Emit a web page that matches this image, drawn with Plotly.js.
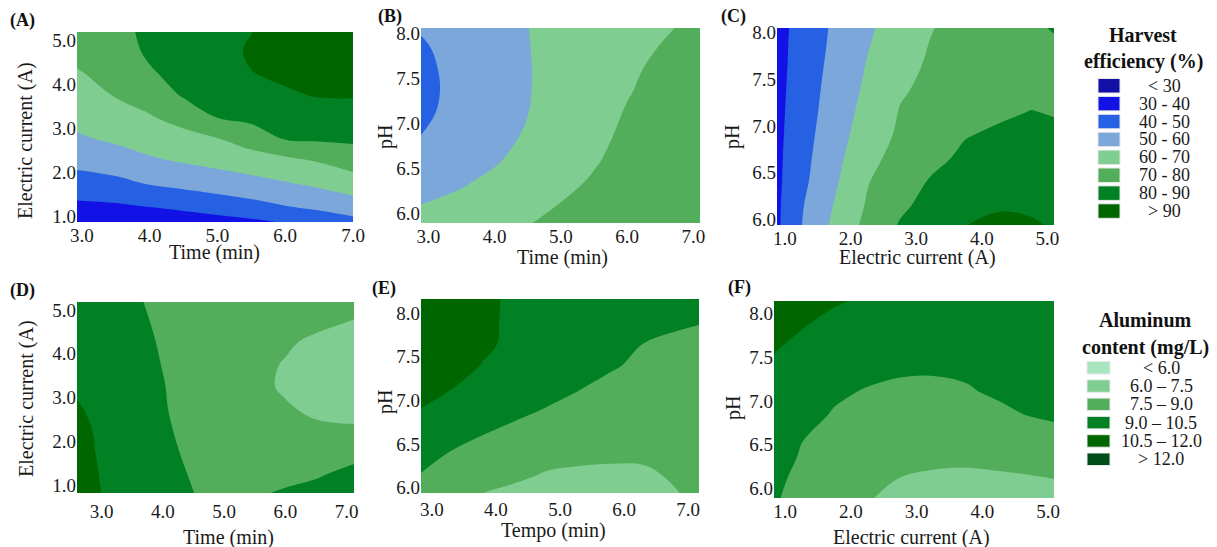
<!DOCTYPE html>
<html>
<head>
<meta charset="utf-8">
<script src="https://cdn.plot.ly/plotly-3.0.1.min.js"></script>
<style>html,body{margin:0;padding:0;background:#fff;}#chart{width:1217px;height:547px;}</style>
</head>
<body>
<div id="chart"></div>
<script>
// ---------- DATA ----------
// Panel A: harvest efficiency (%) vs time (min) and electric current (A)
const panelA_time = [2.9, 3.5, 4.0, 4.5, 5.0, 5.5, 6.0, 6.5, 7.05];
const panelA_current = [0.85, 1.25, 1.75, 2.25, 2.75, 3.25, 3.75, 4.25, 4.75, 5.2];
const panelA_efficiency = [
  [32.0, 32.5, 33.0, 34.0, 35.8, 37.5, 40.0, 43.5, 46.7],
  [38.2, 39.0, 40.6, 42.6, 44.7, 47.1, 50.0, 52.4, 55.9],
  [45.7, 47.4, 50.6, 52.5, 54.7, 56.9, 59.3, 61.9, 66.0],
  [52.6, 55.1, 58.5, 60.6, 62.7, 64.8, 67.1, 70.4, 74.6],
  [58.5, 61.4, 64.1, 66.3, 69.3, 74.5, 80.2, 81.0, 81.5],
  [62.5, 66.2, 69.2, 73.8, 80.3, 82.4, 84.6, 85.9, 86.3],
  [65.8, 70.5, 74.1, 80.9, 82.5, 86.1, 89.0, 90.5, 90.6],
  [69.1, 73.1, 79.0, 83.2, 84.8, 89.8, 91.5, 93.0, 93.0],
  [72.4, 75.7, 81.5, 85.5, 87.0, 91.0, 93.0, 94.5, 94.5],
  [75.0, 78.0, 81.5, 87.5, 89.0, 89.8, 93.5, 95.0, 95.0]
];

// Panel B: harvest efficiency (%) vs time (min) and pH
const panelB_time = [2.85, 3.5, 4.0, 4.5, 5.0, 5.5, 6.0, 6.5, 7.15];
const panelB_pH = [5.85, 6.1, 6.35, 6.6, 6.85, 7.1, 7.35, 7.6, 7.85, 8.1];
const panelB_efficiency = [
  [63.2, 64.4, 66.0, 70.0, 72.0, 75.0, 77.5, 78.5, 79.5],
  [59.8, 61.6, 63.5, 67.0, 70.2, 72.8, 75.8, 77.3, 78.6],
  [56.5, 59.3, 61.4, 64.5, 68.0, 70.8, 74.0, 76.0, 77.6],
  [53.0, 57.5, 59.2, 62.3, 66.4, 69.2, 72.6, 74.9, 76.6],
  [49.8, 55.6, 57.8, 60.8, 65.2, 68.2, 71.4, 73.8, 75.6],
  [47.5, 54.0, 56.7, 59.9, 64.5, 67.5, 70.5, 72.8, 74.7],
  [46.5, 53.5, 56.0, 59.5, 64.0, 67.1, 69.6, 71.9, 73.8],
  [47.0, 53.6, 56.2, 59.4, 64.0, 67.0, 69.1, 71.0, 73.0],
  [48.5, 54.0, 56.8, 59.6, 64.3, 67.2, 68.9, 70.1, 72.2],
  [51.0, 55.0, 57.5, 59.9, 64.8, 67.6, 68.9, 69.0, 71.4]
];

// Panel C: harvest efficiency (%) vs electric current (A) and pH
const panelC_current = [0.85, 1.25, 1.75, 2.25, 2.75, 3.25, 3.75, 4.25, 4.75, 5.15];
const panelC_pH = [5.9, 6.15, 6.4, 6.65, 6.9, 7.15, 7.4, 7.65, 7.9, 8.1];
const panelC_efficiency = [
  [37.5, 49.8, 62.3, 73.0, 81.0, 86.2, 90.5, 92.0, 91.5, 89.3],
  [37.4, 49.1, 60.4, 70.8, 78.5, 82.7, 86.0, 89.2, 88.5, 87.0],
  [37.3, 47.5, 58.5, 69.4, 76.0, 81.0, 84.0, 86.8, 87.3, 85.0],
  [37.2, 46.7, 57.1, 67.0, 73.5, 78.0, 81.7, 83.8, 85.3, 83.3],
  [37.0, 45.9, 55.8, 64.7, 71.5, 75.5, 79.6, 81.3, 82.3, 81.3],
  [36.8, 45.2, 54.6, 63.1, 70.4, 73.2, 76.0, 78.7, 80.2, 79.5],
  [36.5, 44.7, 53.6, 61.6, 69.0, 72.0, 74.5, 76.5, 77.8, 78.3],
  [36.3, 44.1, 52.7, 60.4, 66.9, 71.5, 74.0, 76.0, 77.5, 78.5],
  [36.2, 43.7, 51.8, 59.2, 65.1, 70.6, 74.0, 76.5, 78.3, 79.6],
  [36.0, 43.3, 51.3, 58.3, 64.1, 69.4, 74.0, 77.0, 79.3, 81.0]
];

// Panel D: aluminum content (mg/L) vs time (min) and electric current (A)
const panelD_time = [2.6, 3.0, 3.5, 4.0, 4.5, 5.0, 5.5, 6.0, 6.5, 7.2];
const panelD_current = [0.75, 1.25, 1.75, 2.25, 2.75, 3.25, 3.75, 4.25, 4.75, 5.25];
const panelD_aluminum = [
  [10.9, 10.5, 10.0, 9.5, 9.02, 8.7, 8.95, 9.15, 9.35, 9.6],
  [10.9, 10.45, 9.95, 9.4, 8.9, 8.6, 8.6, 8.75, 8.9, 9.3],
  [10.8, 10.4, 9.85, 9.3, 8.75, 8.35, 8.2, 8.2, 8.4, 8.75],
  [10.75, 10.35, 9.8, 9.2, 8.6, 8.1, 7.8, 7.75, 7.65, 7.6],
  [10.6, 10.2, 9.6, 9.1, 8.5, 8.05, 7.8, 7.58, 7.35, 7.25],
  [10.35, 10.0, 9.55, 9.05, 8.5, 8.0, 7.7, 7.4, 7.15, 7.0],
  [10.2, 9.9, 9.45, 8.97, 8.45, 8.0, 7.7, 7.45, 7.2, 7.0],
  [10.1, 9.8, 9.35, 8.9, 8.5, 8.15, 7.85, 7.6, 7.35, 7.2],
  [10.0, 9.7, 9.2, 8.85, 8.55, 8.3, 8.05, 7.85, 7.7, 7.45],
  [9.9, 9.6, 9.1, 8.8, 8.55, 8.4, 8.2, 8.05, 7.9, 7.75]
];

// Panel E: aluminum content (mg/L) vs tempo (min) and pH
const panelE_time = [2.8, 3.3, 3.8, 4.3, 4.8, 5.3, 5.8, 6.3, 6.8, 7.2];
const panelE_pH = [5.9, 6.15, 6.4, 6.65, 6.9, 7.15, 7.4, 7.65, 7.9, 8.2];
const panelE_aluminum = [
  [8.75, 8.3, 7.4, 7.1, 6.9, 6.85, 6.85, 7.0, 7.4, 7.8],
  [9.0, 8.6, 8.1, 7.75, 7.4, 7.3, 7.25, 7.3, 7.65, 8.0],
  [9.45, 8.95, 8.55, 8.2, 7.95, 7.8, 7.75, 7.75, 7.9, 8.15],
  [9.95, 9.5, 9.1, 8.75, 8.45, 8.2, 8.05, 8.0, 8.05, 8.2],
  [10.5, 10.0, 9.6, 9.3, 8.95, 8.7, 8.45, 8.3, 8.25, 8.3],
  [11.0, 10.55, 10.15, 9.8, 9.4, 9.05, 8.75, 8.5, 8.35, 8.35],
  [11.3, 10.95, 10.45, 10.1, 9.75, 9.4, 9.1, 8.8, 8.5, 8.45],
  [11.5, 11.1, 10.7, 10.25, 9.95, 9.65, 9.35, 9.0, 8.75, 8.65],
  [11.6, 11.2, 10.8, 10.2, 10.05, 9.85, 9.6, 9.4, 9.2, 9.05],
  [11.6, 11.2, 10.8, 10.25, 10.2, 10.0, 9.8, 9.65, 9.5, 9.35]
];

// Panel F: aluminum content (mg/L) vs electric current (A) and pH
const panelF_current = [0.8, 1.25, 1.75, 2.25, 2.75, 3.25, 3.75, 4.25, 4.75, 5.15];
const panelF_pH = [5.85, 6.1, 6.35, 6.6, 6.85, 7.1, 7.35, 7.6, 7.85, 8.2];
const panelF_aluminum = [
  [9.15, 8.55, 8.05, 7.55, 7.1, 6.9, 6.85, 6.95, 7.1, 7.2],
  [9.3, 8.7, 8.3, 7.9, 7.45, 7.25, 7.2, 7.3, 7.4, 7.5],
  [9.5, 8.9, 8.55, 8.2, 7.95, 7.8, 7.75, 7.8, 7.9, 7.95],
  [9.7, 9.05, 8.75, 8.45, 8.2, 8.05, 8.05, 8.15, 8.3, 8.4],
  [10.0, 9.45, 8.9, 8.6, 8.45, 8.35, 8.45, 8.7, 9.1, 9.4],
  [10.2, 9.7, 9.2, 8.9, 8.75, 8.7, 8.85, 9.2, 9.5, 9.75],
  [10.35, 10.0, 9.6, 9.3, 9.12, 9.1, 9.2, 9.45, 9.75, 9.95],
  [10.6, 10.2, 9.85, 9.6, 9.45, 9.45, 9.55, 9.75, 9.95, 10.1],
  [10.9, 10.55, 10.15, 9.9, 9.75, 9.75, 9.8, 9.95, 10.1, 10.2],
  [11.3, 11.0, 10.7, 10.45, 10.25, 10.15, 10.15, 10.25, 10.35, 10.4]
];

// Contour levels, legend labels and tick labels
const harvestLevels = {start: 30, end: 90, size: 10};
const harvestLabels = ['< 30', '30 - 40', '40 - 50', '50 - 60', '60 - 70', '70 - 80', '80 - 90', '> 90'];
const harvestColors = ['#1010a4', '#1212e6', '#2561e2', '#7ba7da', '#80cd91', '#53ae5b', '#018024', '#006600'];
const aluminumLevels = {start: 6, end: 12, size: 1.5};
const aluminumLabels = ['< 6.0', '6.0 \u2013 7.5', '7.5 \u2013 9.0', '9.0 \u2013 10.5', '10.5 \u2013 12.0', '> 12.0'];
const aluminumColors = ['#a8e6c0', '#80cd91', '#53ae5b', '#018024', '#006600', '#004d1a'];
const timeTicks = [3, 4, 5, 6, 7];
const currentTicks = [1, 2, 3, 4, 5];
const pHTicks = [6.0, 6.5, 7.0, 7.5, 8.0];

// ---------- BUILD ----------
const W = 1217, H = 547;
const px = v => v / W;
const py = v => 1 - v / H;
const FONT = '"Liberation Serif", "Times New Roman", serif';

function discreteScale(colors) {
  const n = colors.length - 1;
  return colors.map((c, i) => [i / n, c]);
}

function contourTrace(x, y, z, levels, colors, ax) {
  return {
    type: 'contour', x: x, y: y, z: z,
    xaxis: 'x' + ax, yaxis: 'y' + ax,
    autocontour: false,
    contours: {start: levels.start, end: levels.end, size: levels.size, coloring: 'fill', showlines: false},
    line: {width: 0, smoothing: 1.1},
    colorscale: discreteScale(colors),
    showscale: false, hoverinfo: 'skip'
  };
}

const traces = [
  contourTrace(panelA_time, panelA_current, panelA_efficiency, harvestLevels, harvestColors, ''),
  contourTrace(panelB_time, panelB_pH, panelB_efficiency, harvestLevels, harvestColors, '2'),
  contourTrace(panelC_current, panelC_pH, panelC_efficiency, harvestLevels, harvestColors, '3'),
  contourTrace(panelD_time, panelD_current, panelD_aluminum, aluminumLevels, aluminumColors, '4'),
  contourTrace(panelE_time, panelE_pH, panelE_aluminum, aluminumLevels, aluminumColors, '5'),
  contourTrace(panelF_current, panelF_pH, panelF_aluminum, aluminumLevels, aluminumColors, '6')
];

const tickFont = {family: FONT, size: 19, color: '#1a1a1a'};
function axis(domain, range, ticks, anchor, standoff) {
  return {
    domain: domain, range: range, anchor: anchor,
    tickvals: ticks, tickformat: '.1f', tickfont: tickFont,
    ticks: '', showgrid: false, zeroline: false, showline: false,
    ticklabelstandoff: standoff || 0,
    fixedrange: true
  };
}

// Plot boxes in pixels: [left, right, top, bottom]
const boxes = {
  A: [77, 353, 32, 222], B: [421, 700, 28, 223], C: [777, 1054, 28, 225],
  D: [77, 354, 302, 493], E: [421, 699, 299, 493], F: [774, 1054, 301, 498]
};
const xd = b => [px(b[0]), px(b[1])];
const yd = b => [py(b[3]), py(b[2])];

const layout = {
  width: W, height: H,
  margin: {l: 0, r: 0, t: 0, b: 0},
  paper_bgcolor: '#ffffff', plot_bgcolor: '#ffffff',
  showlegend: false,
  font: {family: FONT, color: '#1a1a1a'},
  xaxis: axis(xd(boxes.A), [2.93, 7.0], timeTicks, 'y', 0),
  yaxis: axis(yd(boxes.A), [0.88, 5.18], currentTicks, 'x'),
  xaxis2: axis(xd(boxes.B), [2.89, 7.1], timeTicks, 'y2', 0),
  yaxis2: axis(yd(boxes.B), [5.89, 8.06], pHTicks, 'x2'),
  xaxis3: axis(xd(boxes.C), [0.88, 5.1], currentTicks, 'y3', 0),
  yaxis3: axis(yd(boxes.C), [5.94, 8.05], pHTicks, 'x3'),
  xaxis4: axis(xd(boxes.D), [2.6, 7.12], timeTicks, 'y4', 5),
  yaxis4: axis(yd(boxes.D), [0.82, 5.18], currentTicks, 'x4'),
  xaxis5: axis(xd(boxes.E), [2.83, 7.17], timeTicks, 'y5', 3),
  yaxis5: axis(yd(boxes.E), [5.94, 8.16], pHTicks, 'x5'),
  xaxis6: axis(xd(boxes.F), [0.83, 5.09], currentTicks, 'y6', 0),
  yaxis6: axis(yd(boxes.F), [5.89, 8.145], pHTicks, 'x6'),
  annotations: [], shapes: []
};

function text(t, x, y, opts) {
  layout.annotations.push(Object.assign({
    text: t, x: px(x), y: py(y), xref: 'paper', yref: 'paper',
    showarrow: false, xanchor: 'center', yanchor: 'middle',
    font: {family: FONT, size: 20, color: '#1a1a1a'}
  }, opts || {}));
}

// panel labels
[['(A)', 22, 20], ['(B)', 390, 17], ['(C)', 733, 16], ['(D)', 22, 291], ['(E)', 384, 288], ['(F)', 739, 287]]
  .forEach(p => text('<b>' + p[0] + '</b>', p[1], p[2], {font: {family: FONT, size: 18, color: '#111'}}));

// axis titles
text('Time (min)', 214, 252);
text('Time (min)', 562, 257);
text('Electric current (A)', 917, 257);
text('Time (min)', 229, 537);
text('Tempo (min)', 553, 530);
text('Electric current (A)', 911, 537);
text('Electric current (A)', 26, 141, {textangle: -90});
text('pH', 386, 137, {textangle: -90});
text('pH', 733, 137, {textangle: -90});
text('Electric current (A)', 26, 399, {textangle: -90});
text('pH', 385, 402, {textangle: -90});
text('pH', 733, 408, {textangle: -90});

// legends
function legend(lines, labels, colors, x0, sw, top, step, h, labelX, titleX, titleY) {
  lines.forEach((l, i) => text('<b>' + l + '</b>', titleX, titleY[i], {font: {family: FONT, size: 20, color: '#111'}}));
  labels.forEach((lab, i) => {
    const t = top + i * step;
    layout.shapes.push({type: 'rect', xref: 'paper', yref: 'paper',
      x0: px(x0), x1: px(x0 + sw), y0: py(t + h), y1: py(t),
      fillcolor: colors[i], line: {width: 1, color: '#e8e8e8'}});
    text(lab, labelX, t + h / 2, {font: {family: FONT, size: 18, color: '#1a1a1a'}});
  });
}
legend(['Harvest', 'efficiency (%)'], harvestLabels, harvestColors,
       1098, 22, 78.5, 17.9, 14.5, 1164, 1143, [35, 62]);
legend(['Aluminum', 'content (mg/L)'], aluminumLabels, aluminumColors,
       1087, 23, 361.5, 18.3, 12.5, 1161, 1145, [320, 347]);

Plotly.newPlot('chart', traces, layout, {staticPlot: true, displayModeBar: false});
</script>
</body>
</html>
